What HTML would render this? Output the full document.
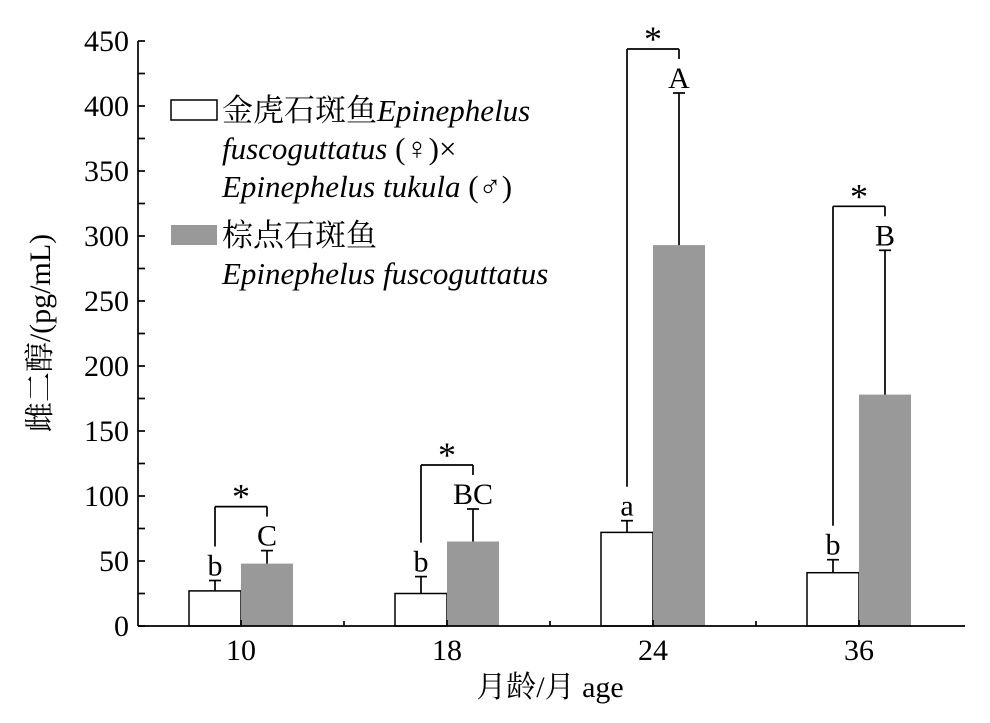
<!DOCTYPE html>
<html><head><meta charset="utf-8"><style>
body{margin:0;background:#fff;}
svg text{font-family:"Liberation Serif","Noto Serif CJK SC",serif;fill:#000;}
</style></head><body>
<svg width="990" height="718" viewBox="0 0 990 718">
<g id="plot"></g>
<g>
  <rect x="171" y="100" width="46" height="20" fill="#fff" stroke="#000" stroke-width="1.5"/>
  <text x="222" y="121" font-size="31">金虎石斑鱼<tspan font-style="italic">Epinephelus</tspan></text>
  <text x="222" y="159" font-size="31"><tspan font-style="italic">fuscoguttatus</tspan> (♀)×</text>
  <text x="222" y="197" font-size="31"><tspan font-style="italic">Epinephelus tukula</tspan> (♂)</text>
  <rect x="171" y="225" width="46" height="20" fill="#999"/>
  <text x="222" y="246" font-size="31">棕点石斑鱼</text>
  <text x="222" y="284" font-size="31" font-style="italic">Epinephelus fuscoguttatus</text>
</g>
<text x="550" y="697" font-size="30" text-anchor="middle">月龄/月 age</text>
<text transform="translate(50,333) rotate(-90)" font-size="30" text-anchor="middle">雌二醇/(pg/mL)</text>
</svg>
<script>
const categories=["10","18","24","36"];
const hybridValues=[27,25,72,41];
const hybridErrors=[8,13,9,10];
const fuscoValues=[48,65,293,178];
const fuscoErrors=[10,25,117,111];
const hybridLetters=["b","b","a","b"];
const fuscoLetters=["C","BC","A","B"];
const yTicks=[0,50,100,150,200,250,300,350,400,450];
const NS="http://www.w3.org/2000/svg";
const g=document.getElementById('plot');
const X0=138,X1=965,Y0=626,YMAX=450,PX=1.3;
const y=v=>Y0-v*PX;
const xc=i=>241+i*206;
const BW=52;
function mk(t,a,p){const e=document.createElementNS(NS,t);for(const k in a)e.setAttribute(k,a[k]);(p||g).appendChild(e);return e;}
function ln(x1,y1,x2,y2){return mk('line',{x1,y1,x2,y2,stroke:'#000','stroke-width':1.7});}
categories.forEach((c,i)=>{
  const cx=xc(i);
  const hb=mk('rect',{x:cx-BW,y:y(hybridValues[i]),width:BW,height:hybridValues[i]*PX,fill:'#fff',stroke:'#000','stroke-width':1.5});
  
  
  const fb=mk('rect',{x:cx,y:y(fuscoValues[i]),width:BW,height:fuscoValues[i]*PX,fill:'#999'});
  
  
  const hx=cx-BW/2, fx=cx+BW/2;
  const ht=y(hybridValues[i]+hybridErrors[i]), ft=y(fuscoValues[i]+fuscoErrors[i]);
  const e1=ln(hx,y(hybridValues[i]),hx,ht);
  
  
  ln(hx-6,ht,hx+6,ht);
  const e2=ln(fx,y(fuscoValues[i]),fx,ft);
  
  
  ln(fx-6,ft,fx+6,ft);
  const t1=mk('text',{x:hx,y:ht-5,'font-size':30,'text-anchor':'middle'});t1.textContent=hybridLetters[i];
  
  
  const t2=mk('text',{x:fx,y:ft-5,'font-size':30,'text-anchor':'middle'});t2.textContent=fuscoLetters[i];
  
  
  const by=Math.min(ft-44,ht-44);
  ln(hx,ht-34,hx,by);ln(hx,by,fx,by);ln(fx,by,fx,ft-34);
  const st=mk('text',{x:cx,y:by+2,'font-size':36,'text-anchor':'middle'});st.textContent='*';
  
  
  const xl=mk('text',{x:cx,y:Y0+34,'font-size':30,'text-anchor':'middle'});xl.textContent=c;
  
  
  ln(cx,Y0,cx,Y0-6);
  if(i<categories.length-1)ln(cx+103,Y0,cx+103,Y0-5);
});
const ax=ln(X0,Y0,X1,Y0);
const ay=ln(X0,Y0,X0,y(YMAX));
for(let v=0;v<=YMAX;v+=25){ln(X0,y(v),X0+7,y(v));}
yTicks.forEach(v=>{
  const t=mk('text',{x:X0-9,y:y(v)+10,'font-size':30,'text-anchor':'end'});t.textContent=v;
  
  
});
</script>
</body></html>
